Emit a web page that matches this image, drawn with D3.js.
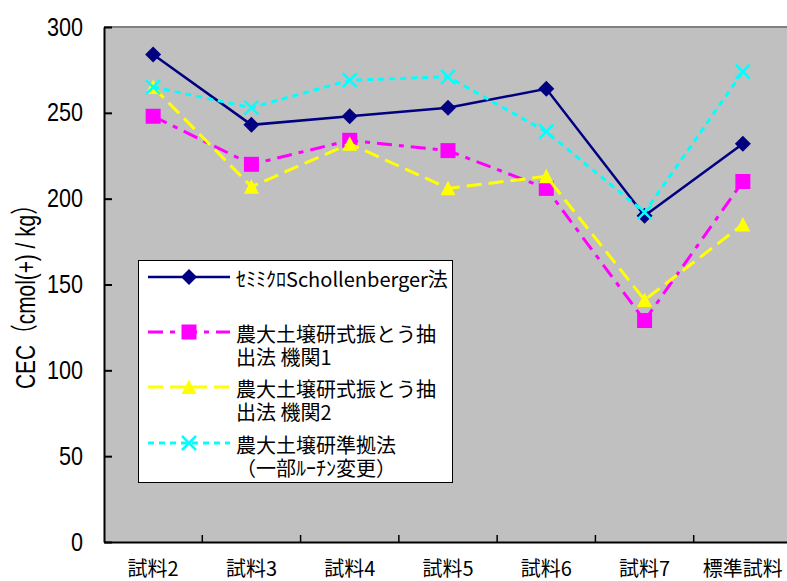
<!DOCTYPE html>
<html>
<head>
<meta charset="utf-8">
<script src="https://cdn.jsdelivr.net/npm/d3@7"></script>
<style>
  body { margin: 0; background: #fff; }
  svg { display: block; }
  text { font-family: "Liberation Sans", Arial, "Noto Sans CJK JP", sans-serif; fill: #000; }
  .jp { font-family: "Noto Sans CJK JP", sans-serif; }
</style>
</head>
<body>
<svg id="chart"></svg>
<script>
// categories (x axis)
const categories = ['試料2', '試料3', '試料4', '試料5', '試料6', '試料7', '標準試料'];

// CEC values, cmol(+)/kg
const semiMicro = [284, 243, 248, 253, 264, 190, 232];
const shindo1 = [248, 220, 234, 228, 206, 129, 210];
const shindo2 = [265, 207, 232, 206, 213, 141, 185];
const junkyo = [265, 253, 269, 271, 239, 192, 274];

// legend labels (one entry per series, split in lines)
const seriesLabels = [
    ['ｾﾐﾐｸﾛSchollenberger法'],
    ['農大土壌研式振とう抽', '出法 機関1'],
    ['農大土壌研式振とう抽', '出法 機関2'],
    ['農大土壌研準拠法', '（一部ﾙｰﾁﾝ変更）']
];

const yTicks = [0, 50, 100, 150, 200, 250, 300];
const yTitle = 'CEC（cmol(+) / kg）';

function drawChart() {

    const width = 787, height = 581;
    const margin = { top: 27, right: -5, bottom: 39, left: 104 },
        w = width - margin.left - margin.right,
        h = height - margin.top - margin.bottom;

    var svg = d3.select("#chart")
        .attr("width", width)
        .attr("height", height);

    // scales
    var xBand = d3.scaleBand()
        .domain(categories)
        .range([margin.left, margin.left + w]);

    var yScale = d3.scaleLinear()
        .domain([0, 300])
        .range([margin.top + h, margin.top]);

    var x0 = xBand.range()[0], x1 = xBand.range()[1];
    var yTop = yScale(300), yBot = yScale(0);

    // series styles
    var series = [
        { values: semiMicro, color: '#000080', dash: null, width: 2.5, marker: 'diamond' },
        { values: shindo1, color: '#FF00FF', dash: '15,7,5,7', width: 3, marker: 'square' },
        { values: shindo2, color: '#FFFF00', dash: '15,7', width: 3, marker: 'triangle' },
        { values: junkyo, color: '#00FFFF', dash: '6,5', width: 3, marker: 'cross' }
    ];

    function markerPath(type) {
        if (type === 'diamond') return 'M0,-8L8,0L0,8L-8,0Z';
        if (type === 'square') return 'M-7.5,-7.5H7.5V7.5H-7.5Z';
        if (type === 'triangle') return 'M0,-7.5L7.5,7L-7.5,7Z';
        return 'M-7,-7L7,7M7,-7L-7,7';
    }

    function addMarker(g, s) {
        var p = g.append("path").attr("d", markerPath(s.marker));
        if (s.marker === 'cross') {
            p.attr("fill", "none").attr("stroke", s.color).attr("stroke-width", 2.5);
        } else {
            p.attr("fill", s.color);
        }
        return p;
    }

    // clip path
    svg.append("clipPath").attr("id", "clip")
        .append("rect")
        .attr("x", x0).attr("y", yTop - 10)
        .attr("width", x1 - x0).attr("height", yBot - yTop + 20);

    // plot area
    svg.append("rect")
        .attr("x", x0).attr("y", yTop)
        .attr("width", x1 - x0).attr("height", yBot - yTop)
        .attr("fill", "#C0C0C0");

    svg.append("line")
        .attr("x1", x0).attr("x2", x1)
        .attr("y1", yTop).attr("y2", yTop)
        .attr("stroke", "#808080").attr("stroke-width", 2)
        .attr("shape-rendering", "crispEdges");

    // y axis
    var yAxis = d3.axisLeft(yScale)
        .tickValues(yTicks)
        .tickSizeInner(-8)
        .tickSizeOuter(0)
        .tickPadding(21);

    var gY = svg.append("g")
        .attr("transform", "translate(" + x0 + ",0)")
        .call(yAxis);
    gY.select(".domain").attr("stroke", "#000").attr("stroke-width", 2);
    gY.selectAll(".tick line").attr("stroke", "#000").attr("stroke-width", 2);
    gY.selectAll(".tick text")
        .style("font-size", "25px")
        .style("font-family", "'Liberation Sans', Arial, sans-serif")
        .attr("textLength", d => String(d).length * 12)
        .attr("lengthAdjust", "spacingAndGlyphs");

    // x axis
    var xAxis = d3.axisBottom(xBand)
        .tickSize(0)
        .tickPadding(20);

    var gX = svg.append("g")
        .attr("transform", "translate(0," + yBot + ")")
        .call(xAxis);
    gX.select(".domain").attr("stroke", "#000").attr("stroke-width", 2);
    gX.selectAll(".tick text")
        .attr("class", "jp")
        .style("font-size", "20px");

    // category boundary ticks
    gX.selectAll(".bound")
        .data(categories.slice(1))
        .enter()
        .append("line")
        .attr("class", "bound")
        .attr("x1", d => xBand(d)).attr("x2", d => xBand(d))
        .attr("y1", 0).attr("y2", -7)
        .attr("stroke", "#000").attr("stroke-width", 1.5);

    // y title
    svg.append("text")
        .attr("transform", "translate(35," + ((yTop + yBot) / 2 + 7) + ") rotate(-90)")
        .attr("text-anchor", "middle")
        .style("font-size", "28px")
        .attr("textLength", 195)
        .attr("lengthAdjust", "spacingAndGlyphs")
        .text(yTitle);

    // lines and markers
    var line = d3.line()
        .x((d, i) => xBand(categories[i]) + xBand.bandwidth() / 2)
        .y(d => yScale(d));

    var body = svg.append("g").attr("clip-path", "url(#clip)");

    series.forEach(s => {
        body.append("path")
            .datum(s.values)
            .attr("d", line)
            .attr("fill", "none")
            .attr("stroke", s.color)
            .attr("stroke-width", s.width)
            .attr("stroke-dasharray", s.dash);

        s.values.forEach((v, i) => {
            var g = body.append("g")
                .attr("transform", "translate(" + (xBand(categories[i]) + xBand.bandwidth() / 2) + "," + yScale(v) + ")");
            addMarker(g, s);
        });
    });

    // legend
    var legend = svg.append("g");
    legend.append("rect")
        .attr("x", 138.5).attr("y", 260.5)
        .attr("width", 314).attr("height", 222)
        .attr("fill", "#fff")
        .attr("stroke", "#000").attr("stroke-width", 1);

    var rowY = [277, 332, 387, 443];
    series.forEach((s, k) => {
        var ly = rowY[k];
        legend.append("line")
            .attr("x1", 148).attr("x2", 230)
            .attr("y1", ly).attr("y2", ly)
            .attr("stroke", s.color)
            .attr("stroke-width", s.width)
            .attr("stroke-dasharray", s.dash);
        var g = legend.append("g").attr("transform", "translate(189," + ly + ")");
        addMarker(g, s);

        seriesLabels[k].forEach((t, j) => {
            legend.append("text")
                .attr("class", "jp")
                .attr("x", 236)
                .attr("y", ly + 10 + j * 23)
                .style("font-size", "20px")
                .text(t);
        });
    });
}

drawChart();
</script>
</body>
</html>
